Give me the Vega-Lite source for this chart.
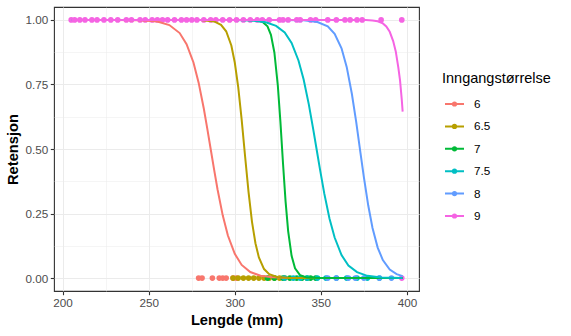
{
  "$schema": "https://vega.github.io/schema/vega-lite/v6.json",
  "width": 365,
  "height": 284,
  "autosize": {"type": "none"},
  "padding": {"left": 54, "top": 7, "right": 152, "bottom": 45},
  "background": "white",
  "config": {
    "font": "Liberation Sans",
    "view": {"stroke": "#333333", "strokeWidth": 1.1},
    "axis": {
      "domain": false,
      "gridColor": "#EBEBEB",
      "tickColor": "#333333",
      "tickSize": 3.7,
      "tickWidth": 1.1,
      "labelColor": "#4D4D4D",
      "labelFont": "Liberation Sans",
      "labelFontSize": 11.7,
      "labelPadding": 2.5,
      "titleFont": "Liberation Sans",
      "titleFontSize": 14.7,
      "titleFontWeight": "bold",
      "titleColor": "#000000"
    }
  },
  "datasets": {
    "obs": [
      {"Inngang": "6", "Lengde": 279, "Retensjon": 0},
      {"Inngang": "6", "Lengde": 281, "Retensjon": 0},
      {"Inngang": "6", "Lengde": 287, "Retensjon": 0},
      {"Inngang": "6", "Lengde": 291, "Retensjon": 0},
      {"Inngang": "6", "Lengde": 293, "Retensjon": 0},
      {"Inngang": "6", "Lengde": 295, "Retensjon": 0},
      {"Inngang": "6", "Lengde": 299, "Retensjon": 0},
      {"Inngang": "6", "Lengde": 301, "Retensjon": 0},
      {"Inngang": "6.5", "Lengde": 299, "Retensjon": 0},
      {"Inngang": "6.5", "Lengde": 302, "Retensjon": 0},
      {"Inngang": "6.5", "Lengde": 305, "Retensjon": 0},
      {"Inngang": "6.5", "Lengde": 308, "Retensjon": 0},
      {"Inngang": "6.5", "Lengde": 311, "Retensjon": 0},
      {"Inngang": "6.5", "Lengde": 314, "Retensjon": 0},
      {"Inngang": "6.5", "Lengde": 317, "Retensjon": 0},
      {"Inngang": "6.5", "Lengde": 320, "Retensjon": 0},
      {"Inngang": "6.5", "Lengde": 323, "Retensjon": 0},
      {"Inngang": "6.5", "Lengde": 326, "Retensjon": 0},
      {"Inngang": "6.5", "Lengde": 329, "Retensjon": 0},
      {"Inngang": "7", "Lengde": 319, "Retensjon": 0},
      {"Inngang": "7", "Lengde": 323, "Retensjon": 0},
      {"Inngang": "7", "Lengde": 328, "Retensjon": 0},
      {"Inngang": "7", "Lengde": 332, "Retensjon": 0},
      {"Inngang": "7", "Lengde": 336, "Retensjon": 0},
      {"Inngang": "7", "Lengde": 339, "Retensjon": 0},
      {"Inngang": "7", "Lengde": 342, "Retensjon": 0},
      {"Inngang": "7", "Lengde": 344, "Retensjon": 0},
      {"Inngang": "7", "Lengde": 347, "Retensjon": 0},
      {"Inngang": "7.5", "Lengde": 329, "Retensjon": 0},
      {"Inngang": "7.5", "Lengde": 334, "Retensjon": 0},
      {"Inngang": "7.5", "Lengde": 338, "Retensjon": 0},
      {"Inngang": "7.5", "Lengde": 342, "Retensjon": 0},
      {"Inngang": "7.5", "Lengde": 348, "Retensjon": 0},
      {"Inngang": "7.5", "Lengde": 353, "Retensjon": 0},
      {"Inngang": "7.5", "Lengde": 359, "Retensjon": 0},
      {"Inngang": "7.5", "Lengde": 365, "Retensjon": 0},
      {"Inngang": "7.5", "Lengde": 371, "Retensjon": 0},
      {"Inngang": "7.5", "Lengde": 377, "Retensjon": 0},
      {"Inngang": "7.5", "Lengde": 384, "Retensjon": 0},
      {"Inngang": "8", "Lengde": 354, "Retensjon": 0},
      {"Inngang": "8", "Lengde": 359, "Retensjon": 0},
      {"Inngang": "8", "Lengde": 366, "Retensjon": 0},
      {"Inngang": "8", "Lengde": 370, "Retensjon": 0},
      {"Inngang": "8", "Lengde": 375, "Retensjon": 0},
      {"Inngang": "8", "Lengde": 384, "Retensjon": 0},
      {"Inngang": "8", "Lengde": 391, "Retensjon": 0},
      {"Inngang": "9", "Lengde": 397, "Retensjon": 0},
      {"Inngang": "9", "Lengde": 205, "Retensjon": 1},
      {"Inngang": "9", "Lengde": 207, "Retensjon": 1},
      {"Inngang": "9", "Lengde": 210, "Retensjon": 1},
      {"Inngang": "9", "Lengde": 213, "Retensjon": 1},
      {"Inngang": "9", "Lengde": 217, "Retensjon": 1},
      {"Inngang": "9", "Lengde": 220, "Retensjon": 1},
      {"Inngang": "9", "Lengde": 224, "Retensjon": 1},
      {"Inngang": "9", "Lengde": 228, "Retensjon": 1},
      {"Inngang": "9", "Lengde": 232, "Retensjon": 1},
      {"Inngang": "9", "Lengde": 237, "Retensjon": 1},
      {"Inngang": "9", "Lengde": 240, "Retensjon": 1},
      {"Inngang": "9", "Lengde": 245, "Retensjon": 1},
      {"Inngang": "9", "Lengde": 248, "Retensjon": 1},
      {"Inngang": "9", "Lengde": 252, "Retensjon": 1},
      {"Inngang": "9", "Lengde": 255, "Retensjon": 1},
      {"Inngang": "9", "Lengde": 258, "Retensjon": 1},
      {"Inngang": "9", "Lengde": 261, "Retensjon": 1},
      {"Inngang": "9", "Lengde": 265, "Retensjon": 1},
      {"Inngang": "9", "Lengde": 269, "Retensjon": 1},
      {"Inngang": "9", "Lengde": 272, "Retensjon": 1},
      {"Inngang": "9", "Lengde": 275, "Retensjon": 1},
      {"Inngang": "9", "Lengde": 278, "Retensjon": 1},
      {"Inngang": "9", "Lengde": 282, "Retensjon": 1},
      {"Inngang": "9", "Lengde": 286, "Retensjon": 1},
      {"Inngang": "9", "Lengde": 289, "Retensjon": 1},
      {"Inngang": "9", "Lengde": 293, "Retensjon": 1},
      {"Inngang": "9", "Lengde": 297, "Retensjon": 1},
      {"Inngang": "9", "Lengde": 301, "Retensjon": 1},
      {"Inngang": "9", "Lengde": 305, "Retensjon": 1},
      {"Inngang": "9", "Lengde": 309, "Retensjon": 1},
      {"Inngang": "9", "Lengde": 313, "Retensjon": 1},
      {"Inngang": "9", "Lengde": 316, "Retensjon": 1},
      {"Inngang": "9", "Lengde": 320, "Retensjon": 1},
      {"Inngang": "9", "Lengde": 326, "Retensjon": 1},
      {"Inngang": "9", "Lengde": 328, "Retensjon": 1},
      {"Inngang": "9", "Lengde": 331, "Retensjon": 1},
      {"Inngang": "9", "Lengde": 336, "Retensjon": 1},
      {"Inngang": "9", "Lengde": 338, "Retensjon": 1},
      {"Inngang": "9", "Lengde": 344, "Retensjon": 1},
      {"Inngang": "9", "Lengde": 347, "Retensjon": 1},
      {"Inngang": "9", "Lengde": 354, "Retensjon": 1},
      {"Inngang": "9", "Lengde": 359, "Retensjon": 1},
      {"Inngang": "9", "Lengde": 364, "Retensjon": 1},
      {"Inngang": "9", "Lengde": 367, "Retensjon": 1},
      {"Inngang": "9", "Lengde": 371, "Retensjon": 1},
      {"Inngang": "9", "Lengde": 374, "Retensjon": 1},
      {"Inngang": "9", "Lengde": 385, "Retensjon": 1},
      {"Inngang": "9", "Lengde": 397, "Retensjon": 1}
    ],
    "kurver": [
      {"Inngang": "6", "Lengde": 205, "Retensjon": 1},
      {"Inngang": "6", "Lengde": 230, "Retensjon": 0.9999},
      {"Inngang": "6", "Lengde": 245, "Retensjon": 0.9987},
      {"Inngang": "6", "Lengde": 255, "Retensjon": 0.9934},
      {"Inngang": "6", "Lengde": 262, "Retensjon": 0.98},
      {"Inngang": "6", "Lengde": 268, "Retensjon": 0.949},
      {"Inngang": "6", "Lengde": 272, "Retensjon": 0.906},
      {"Inngang": "6", "Lengde": 276, "Retensjon": 0.835},
      {"Inngang": "6", "Lengde": 279, "Retensjon": 0.757},
      {"Inngang": "6", "Lengde": 282, "Retensjon": 0.657},
      {"Inngang": "6", "Lengde": 284, "Retensjon": 0.58},
      {"Inngang": "6", "Lengde": 286, "Retensjon": 0.5},
      {"Inngang": "6", "Lengde": 288, "Retensjon": 0.42},
      {"Inngang": "6", "Lengde": 290, "Retensjon": 0.343},
      {"Inngang": "6", "Lengde": 293, "Retensjon": 0.243},
      {"Inngang": "6", "Lengde": 296, "Retensjon": 0.165},
      {"Inngang": "6", "Lengde": 300, "Retensjon": 0.094},
      {"Inngang": "6", "Lengde": 304, "Retensjon": 0.051},
      {"Inngang": "6", "Lengde": 309, "Retensjon": 0.0235},
      {"Inngang": "6", "Lengde": 315, "Retensjon": 0.009},
      {"Inngang": "6", "Lengde": 322, "Retensjon": 0.0029},
      {"Inngang": "6", "Lengde": 332, "Retensjon": 0.0006},
      {"Inngang": "6", "Lengde": 345, "Retensjon": 0.0001},
      {"Inngang": "6", "Lengde": 397.5, "Retensjon": 0},
      {"Inngang": "6.5", "Lengde": 205, "Retensjon": 1},
      {"Inngang": "6.5", "Lengde": 280, "Retensjon": 0.9994},
      {"Inngang": "6.5", "Lengde": 288, "Retensjon": 0.994},
      {"Inngang": "6.5", "Lengde": 292, "Retensjon": 0.981},
      {"Inngang": "6.5", "Lengde": 295, "Retensjon": 0.956},
      {"Inngang": "6.5", "Lengde": 298, "Retensjon": 0.901},
      {"Inngang": "6.5", "Lengde": 300, "Retensjon": 0.835},
      {"Inngang": "6.5", "Lengde": 302, "Retensjon": 0.74},
      {"Inngang": "6.5", "Lengde": 304, "Retensjon": 0.614},
      {"Inngang": "6.5", "Lengde": 306, "Retensjon": 0.471},
      {"Inngang": "6.5", "Lengde": 308, "Retensjon": 0.333},
      {"Inngang": "6.5", "Lengde": 310, "Retensjon": 0.218},
      {"Inngang": "6.5", "Lengde": 312, "Retensjon": 0.135},
      {"Inngang": "6.5", "Lengde": 314, "Retensjon": 0.08},
      {"Inngang": "6.5", "Lengde": 317, "Retensjon": 0.035},
      {"Inngang": "6.5", "Lengde": 320, "Retensjon": 0.015},
      {"Inngang": "6.5", "Lengde": 325, "Retensjon": 0.0036},
      {"Inngang": "6.5", "Lengde": 332, "Retensjon": 0.0005},
      {"Inngang": "6.5", "Lengde": 397.5, "Retensjon": 0},
      {"Inngang": "7", "Lengde": 205, "Retensjon": 1},
      {"Inngang": "7", "Lengde": 305, "Retensjon": 0.9999},
      {"Inngang": "7", "Lengde": 312, "Retensjon": 0.9987},
      {"Inngang": "7", "Lengde": 316, "Retensjon": 0.9929},
      {"Inngang": "7", "Lengde": 319, "Retensjon": 0.975},
      {"Inngang": "7", "Lengde": 321, "Retensjon": 0.942},
      {"Inngang": "7", "Lengde": 323, "Retensjon": 0.874},
      {"Inngang": "7", "Lengde": 325, "Retensjon": 0.746},
      {"Inngang": "7", "Lengde": 326.5, "Retensjon": 0.606},
      {"Inngang": "7", "Lengde": 328, "Retensjon": 0.446},
      {"Inngang": "7", "Lengde": 329.5, "Retensjon": 0.297},
      {"Inngang": "7", "Lengde": 331, "Retensjon": 0.182},
      {"Inngang": "7", "Lengde": 333, "Retensjon": 0.086},
      {"Inngang": "7", "Lengde": 335, "Retensjon": 0.038},
      {"Inngang": "7", "Lengde": 338, "Retensjon": 0.0108},
      {"Inngang": "7", "Lengde": 342, "Retensjon": 0.002},
      {"Inngang": "7", "Lengde": 350, "Retensjon": 0.0001},
      {"Inngang": "7", "Lengde": 397.5, "Retensjon": 0},
      {"Inngang": "7.5", "Lengde": 205, "Retensjon": 1},
      {"Inngang": "7.5", "Lengde": 280, "Retensjon": 0.99998},
      {"Inngang": "7.5", "Lengde": 300, "Retensjon": 0.9995},
      {"Inngang": "7.5", "Lengde": 310, "Retensjon": 0.9975},
      {"Inngang": "7.5", "Lengde": 318, "Retensjon": 0.991},
      {"Inngang": "7.5", "Lengde": 324, "Retensjon": 0.977},
      {"Inngang": "7.5", "Lengde": 329, "Retensjon": 0.951},
      {"Inngang": "7.5", "Lengde": 333, "Retensjon": 0.911},
      {"Inngang": "7.5", "Lengde": 337, "Retensjon": 0.843},
      {"Inngang": "7.5", "Lengde": 340, "Retensjon": 0.769},
      {"Inngang": "7.5", "Lengde": 343, "Retensjon": 0.673},
      {"Inngang": "7.5", "Lengde": 345.5, "Retensjon": 0.579},
      {"Inngang": "7.5", "Lengde": 347.5, "Retensjon": 0.5},
      {"Inngang": "7.5", "Lengde": 349.5, "Retensjon": 0.421},
      {"Inngang": "7.5", "Lengde": 352, "Retensjon": 0.327},
      {"Inngang": "7.5", "Lengde": 355, "Retensjon": 0.231},
      {"Inngang": "7.5", "Lengde": 358, "Retensjon": 0.157},
      {"Inngang": "7.5", "Lengde": 362, "Retensjon": 0.089},
      {"Inngang": "7.5", "Lengde": 366, "Retensjon": 0.049},
      {"Inngang": "7.5", "Lengde": 371, "Retensjon": 0.023},
      {"Inngang": "7.5", "Lengde": 377, "Retensjon": 0.0088},
      {"Inngang": "7.5", "Lengde": 385, "Retensjon": 0.0025},
      {"Inngang": "7.5", "Lengde": 397.5, "Retensjon": 0.0003},
      {"Inngang": "8", "Lengde": 205, "Retensjon": 1},
      {"Inngang": "8", "Lengde": 325, "Retensjon": 0.9999},
      {"Inngang": "8", "Lengde": 340, "Retensjon": 0.9983},
      {"Inngang": "8", "Lengde": 348, "Retensjon": 0.992},
      {"Inngang": "8", "Lengde": 354, "Retensjon": 0.975},
      {"Inngang": "8", "Lengde": 358, "Retensjon": 0.946},
      {"Inngang": "8", "Lengde": 362, "Retensjon": 0.89},
      {"Inngang": "8", "Lengde": 365, "Retensjon": 0.818},
      {"Inngang": "8", "Lengde": 368, "Retensjon": 0.714},
      {"Inngang": "8", "Lengde": 370.5, "Retensjon": 0.606},
      {"Inngang": "8", "Lengde": 373, "Retensjon": 0.485},
      {"Inngang": "8", "Lengde": 375, "Retensjon": 0.39},
      {"Inngang": "8", "Lengde": 377.5, "Retensjon": 0.282},
      {"Inngang": "8", "Lengde": 380, "Retensjon": 0.194},
      {"Inngang": "8", "Lengde": 383, "Retensjon": 0.118},
      {"Inngang": "8", "Lengde": 386, "Retensjon": 0.07},
      {"Inngang": "8", "Lengde": 390, "Retensjon": 0.033},
      {"Inngang": "8", "Lengde": 394, "Retensjon": 0.0155},
      {"Inngang": "8", "Lengde": 397.5, "Retensjon": 0.0075},
      {"Inngang": "9", "Lengde": 205, "Retensjon": 1},
      {"Inngang": "9", "Lengde": 360, "Retensjon": 1},
      {"Inngang": "9", "Lengde": 370, "Retensjon": 0.9999},
      {"Inngang": "9", "Lengde": 376, "Retensjon": 0.9994},
      {"Inngang": "9", "Lengde": 380, "Retensjon": 0.9978},
      {"Inngang": "9", "Lengde": 383, "Retensjon": 0.9946},
      {"Inngang": "9", "Lengde": 386, "Retensjon": 0.9863},
      {"Inngang": "9", "Lengde": 388, "Retensjon": 0.975},
      {"Inngang": "9", "Lengde": 390, "Retensjon": 0.954},
      {"Inngang": "9", "Lengde": 392, "Retensjon": 0.918},
      {"Inngang": "9", "Lengde": 393.5, "Retensjon": 0.878},
      {"Inngang": "9", "Lengde": 395, "Retensjon": 0.815},
      {"Inngang": "9", "Lengde": 396, "Retensjon": 0.765},
      {"Inngang": "9", "Lengde": 397, "Retensjon": 0.69},
      {"Inngang": "9", "Lengde": 397.5, "Retensjon": 0.645}
    ]
  },
  "encoding": {
    "x": {
      "field": "Lengde",
      "type": "quantitative",
      "scale": {"domain": [195, 407], "nice": false, "zero": false},
      "axis": {
        "title": "Lengde (mm)",
        "values": [200, 225, 250, 275, 300, 325, 350, 375, 400],
        "format": "d",
        "labelExpr": "datum.value % 50 === 0 ? datum.label : ''",
        "gridWidth": {"condition": {"test": "datum.value % 50 === 0", "value": 1}, "value": 0.5},
        "tickOpacity": {"condition": {"test": "datum.value % 50 === 0", "value": 1}, "value": 0},
        "titlePadding": 4
      }
    },
    "y": {
      "field": "Retensjon",
      "type": "quantitative",
      "scale": {"domain": [-0.05, 1.05], "nice": false, "zero": false},
      "axis": {
        "title": "Retensjon",
        "values": [0, 0.125, 0.25, 0.375, 0.5, 0.625, 0.75, 0.875, 1],
        "format": ".2f",
        "labelExpr": "abs(datum.value*4 - round(datum.value*4)) < 0.001 ? datum.label : ''",
        "gridWidth": {"condition": {"test": "abs(datum.value*4 - round(datum.value*4)) < 0.001", "value": 1}, "value": 0.5},
        "tickOpacity": {"condition": {"test": "abs(datum.value*4 - round(datum.value*4)) < 0.001", "value": 1}, "value": 0},
        "titlePadding": 5
      }
    },
    "color": {
      "field": "Inngang",
      "type": "nominal",
      "scale": {
        "domain": ["6", "6.5", "7", "7.5", "8", "9"],
        "range": ["#F8766D", "#B79F00", "#00BA38", "#00BFC4", "#619CFF", "#F564E3"]
      },
      "legend": {
        "title": "Inngangstørrelse",
        "orient": "none",
        "legendX": 388,
        "legendY": 65,
        "padding": 0,
        "titleFontSize": 14.5,
        "titleFontWeight": "normal",
        "titleColor": "#000000",
        "titleFont": "Liberation Sans",
        "titlePadding": 7,
        "labelFontSize": 11.7,
        "labelColor": "#000000",
        "labelFont": "Liberation Sans",
        "labelOffset": 9,
        "rowPadding": 4.4,
        "symbolSize": 361,
        "symbolOffset": 2,
        "symbolStrokeWidth": 2,
        "symbolOpacity": 1,
        "symbolType": "M-1,0L1,0M-0.17,0A0.17,0.17,0,1,1,0.17,0A0.17,0.17,0,1,1,-0.17,0Z",
        "encode": {
          "symbols": {
            "update": {
              "fill": {"scale": "color", "field": "value"},
              "stroke": {"scale": "color", "field": "value"},
              "fillOpacity": {"value": 1},
              "strokeOpacity": {"value": 1}
            }
          }
        }
      }
    }
  },
  "layer": [
    {
      "data": {"name": "obs"},
      "mark": {"type": "circle", "size": 32, "opacity": 1}
    },
    {
      "data": {"name": "kurver"},
      "mark": {"type": "line", "strokeWidth": 2}
    },
    {
      "data": {"values": [{}]},
      "mark": {"type": "rule", "color": "black", "strokeWidth": 1},
      "encoding": {"x": {"datum": 280}, "y": null, "color": null}
    }
  ]
}
